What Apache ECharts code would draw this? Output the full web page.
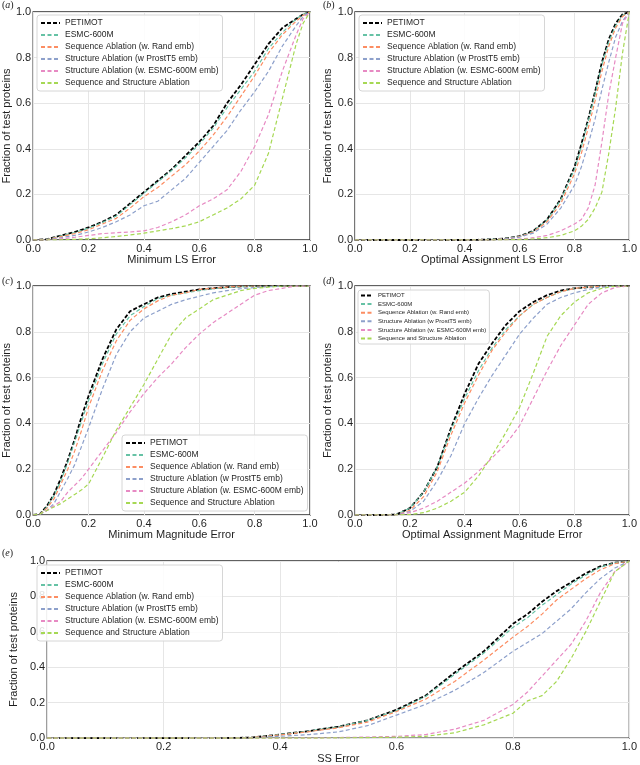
<!DOCTYPE html>
<html>
<head>
<meta charset="utf-8">
<script src="https://cdn.jsdelivr.net/npm/echarts@6/dist/echarts.min.js"></script>
<style>
  html, body { margin: 0; padding: 0; background: #fff; }
  #chart { width: 640px; height: 765px; }
</style>
</head>
<body>
<div id="chart"></div>
<script>
// series names / colours (seaborn Set2, PETIMOT in black)
const seriesNames = [
  'PETIMOT',
  'ESMC-600M',
  'Sequence Ablation (w. Rand emb)',
  'Structure Ablation (w ProstT5 emb)',
  'Structure Ablation (w. ESMC-600M emb)',
  'Sequence and Structure Ablation'
]
const seriesColors = ['#000000', '#66c2a5', '#fc8d62', '#8da0cb', '#e78ac3', '#a6d854']

// (a) Minimum LS Error
const xA = [0, 0.05, 0.1, 0.15, 0.2, 0.25, 0.3, 0.35, 0.4, 0.45, 0.5, 0.55, 0.6, 0.65, 0.7, 0.75, 0.8, 0.85, 0.9, 0.95, 0.975, 1.0]
const petimotA    = [0, 0.003, 0.02, 0.035, 0.055, 0.08, 0.11, 0.16, 0.21, 0.26, 0.31, 0.37, 0.43, 0.50, 0.60, 0.68, 0.77, 0.86, 0.93, 0.97, 0.99, 1.0]
const esmcA       = [0, 0.003, 0.018, 0.033, 0.052, 0.077, 0.105, 0.155, 0.205, 0.255, 0.305, 0.36, 0.42, 0.49, 0.58, 0.66, 0.74, 0.84, 0.91, 0.97, 0.99, 1.0]
const seqRandA    = [0, 0.002, 0.015, 0.028, 0.045, 0.07, 0.095, 0.14, 0.19, 0.23, 0.28, 0.33, 0.39, 0.46, 0.54, 0.63, 0.72, 0.82, 0.90, 0.96, 0.985, 1.0]
const structProA  = [0, 0.002, 0.01, 0.02, 0.035, 0.055, 0.08, 0.11, 0.15, 0.17, 0.22, 0.27, 0.34, 0.41, 0.48, 0.57, 0.65, 0.74, 0.85, 0.94, 0.98, 1.0]
const structEsmA  = [0, 0.001, 0.005, 0.012, 0.02, 0.028, 0.032, 0.035, 0.04, 0.055, 0.08, 0.11, 0.15, 0.18, 0.22, 0.30, 0.41, 0.55, 0.74, 0.90, 0.97, 1.0]
const seqStructA  = [0, 0, 0.001, 0.003, 0.005, 0.01, 0.015, 0.022, 0.03, 0.04, 0.05, 0.062, 0.08, 0.11, 0.14, 0.18, 0.24, 0.38, 0.62, 0.86, 0.95, 1.0]

// (b) Optimal Assignment LS Error
const xB = [0, 0.4, 0.45, 0.5, 0.55, 0.6, 0.65, 0.7, 0.75, 0.8, 0.825, 0.85, 0.875, 0.9, 0.925, 0.95, 0.975, 1.0]
const petimotB    = [0, 0, 0.001, 0.003, 0.007, 0.017, 0.04, 0.09, 0.18, 0.32, 0.42, 0.53, 0.65, 0.78, 0.88, 0.95, 0.99, 1.0]
const esmcB       = [0, 0, 0.001, 0.003, 0.007, 0.016, 0.038, 0.088, 0.175, 0.31, 0.41, 0.52, 0.64, 0.77, 0.87, 0.94, 0.985, 1.0]
const seqRandB    = [0, 0, 0.001, 0.002, 0.006, 0.015, 0.035, 0.08, 0.16, 0.29, 0.38, 0.49, 0.61, 0.74, 0.85, 0.93, 0.98, 1.0]
const structProB  = [0, 0, 0.001, 0.002, 0.005, 0.013, 0.03, 0.07, 0.14, 0.24, 0.32, 0.42, 0.53, 0.66, 0.78, 0.89, 0.96, 1.0]
const structEsmB  = [0, 0, 0, 0.001, 0.002, 0.004, 0.01, 0.02, 0.04, 0.07, 0.09, 0.14, 0.24, 0.43, 0.64, 0.80, 0.95, 1.0]
const seqStructB  = [0, 0, 0, 0, 0.001, 0.002, 0.005, 0.01, 0.02, 0.04, 0.06, 0.09, 0.14, 0.21, 0.38, 0.58, 0.82, 1.0]

// (c) Minimum Magnitude Error
const xC = [0, 0.025, 0.05, 0.075, 0.1, 0.125, 0.15, 0.175, 0.2, 0.25, 0.3, 0.35, 0.4, 0.45, 0.5, 0.55, 0.6, 0.65, 0.7, 0.75, 0.8, 0.85, 0.9, 0.95, 1.0]
const petimotC    = [0, 0.005, 0.04, 0.09, 0.16, 0.24, 0.33, 0.43, 0.52, 0.68, 0.81, 0.89, 0.92, 0.95, 0.965, 0.975, 0.985, 0.99, 0.995, 0.998, 1.0, 1.0, 1.0, 1.0, 1.0]
const esmcC       = [0, 0.005, 0.035, 0.085, 0.15, 0.23, 0.32, 0.41, 0.50, 0.66, 0.79, 0.87, 0.91, 0.945, 0.96, 0.97, 0.98, 0.988, 0.993, 0.997, 1.0, 1.0, 1.0, 1.0, 1.0]
const seqRandC    = [0, 0.004, 0.03, 0.07, 0.135, 0.20, 0.28, 0.37, 0.47, 0.63, 0.76, 0.85, 0.90, 0.935, 0.96, 0.97, 0.985, 0.99, 0.995, 1.0, 1.0, 1.0, 1.0, 1.0, 1.0]
const structProC  = [0, 0.003, 0.02, 0.05, 0.105, 0.16, 0.22, 0.30, 0.38, 0.55, 0.70, 0.80, 0.86, 0.89, 0.92, 0.94, 0.955, 0.97, 0.98, 0.988, 0.993, 0.997, 1.0, 1.0, 1.0]
const structEsmC  = [0, 0.005, 0.02, 0.04, 0.06, 0.10, 0.13, 0.16, 0.20, 0.28, 0.36, 0.45, 0.53, 0.60, 0.66, 0.73, 0.79, 0.84, 0.88, 0.92, 0.96, 0.98, 0.99, 1.0, 1.0]
const seqStructC  = [0, 0.005, 0.02, 0.035, 0.05, 0.07, 0.09, 0.11, 0.135, 0.25, 0.37, 0.47, 0.57, 0.68, 0.79, 0.86, 0.90, 0.94, 0.96, 0.98, 0.99, 0.995, 1.0, 1.0, 1.0]

// (d) Optimal Assignment Magnitude Error
const xD = [0, 0.1, 0.15, 0.2, 0.25, 0.3, 0.35, 0.4, 0.45, 0.5, 0.55, 0.6, 0.65, 0.7, 0.75, 0.8, 0.85, 0.9, 0.95, 1.0]
const petimotD    = [0, 0, 0.002, 0.03, 0.10, 0.21, 0.38, 0.53, 0.66, 0.75, 0.83, 0.89, 0.93, 0.96, 0.98, 0.99, 0.995, 1.0, 1.0, 1.0]
const esmcD       = [0, 0, 0.002, 0.03, 0.10, 0.21, 0.37, 0.51, 0.63, 0.73, 0.81, 0.87, 0.92, 0.95, 0.975, 0.99, 0.995, 1.0, 1.0, 1.0]
const seqRandD    = [0, 0, 0.001, 0.02, 0.08, 0.19, 0.35, 0.49, 0.61, 0.72, 0.80, 0.87, 0.92, 0.95, 0.975, 0.99, 0.995, 1.0, 1.0, 1.0]
const structProD  = [0, 0, 0.001, 0.015, 0.06, 0.15, 0.26, 0.40, 0.51, 0.61, 0.70, 0.79, 0.86, 0.92, 0.95, 0.97, 0.985, 0.995, 1.0, 1.0]
const structEsmD  = [0, 0, 0, 0.01, 0.03, 0.06, 0.10, 0.14, 0.19, 0.25, 0.31, 0.39, 0.51, 0.63, 0.74, 0.83, 0.92, 0.97, 0.995, 1.0]
const seqStructD  = [0, 0, 0, 0.002, 0.01, 0.03, 0.06, 0.10, 0.17, 0.26, 0.36, 0.47, 0.62, 0.78, 0.87, 0.93, 0.97, 0.99, 1.0, 1.0]

// (e) SS Error
const xE = [0, 0.3, 0.35, 0.4, 0.45, 0.5, 0.55, 0.6, 0.65, 0.7, 0.75, 0.8, 0.825, 0.85, 0.875, 0.9, 0.925, 0.95, 0.975, 1.0]
const petimotE    = [0, 0, 0.003, 0.02, 0.04, 0.065, 0.10, 0.16, 0.24, 0.37, 0.49, 0.645, 0.70, 0.77, 0.83, 0.88, 0.93, 0.97, 0.99, 1.0]
const esmcE       = [0, 0, 0.003, 0.02, 0.04, 0.064, 0.10, 0.155, 0.235, 0.36, 0.48, 0.625, 0.68, 0.75, 0.81, 0.87, 0.92, 0.965, 0.99, 1.0]
const seqRandE    = [0, 0, 0.003, 0.018, 0.037, 0.058, 0.09, 0.15, 0.22, 0.32, 0.44, 0.57, 0.63, 0.70, 0.78, 0.84, 0.90, 0.95, 0.985, 1.0]
const structProE  = [0, 0, 0.002, 0.01, 0.02, 0.035, 0.07, 0.13, 0.19, 0.27, 0.37, 0.49, 0.54, 0.59, 0.66, 0.73, 0.82, 0.90, 0.96, 1.0]
const structEsmE  = [0, 0, 0, 0, 0.001, 0.003, 0.006, 0.01, 0.02, 0.05, 0.10, 0.19, 0.26, 0.35, 0.44, 0.53, 0.66, 0.82, 0.94, 1.0]
const seqStructE  = [0, 0, 0, 0, 0, 0.001, 0.003, 0.005, 0.01, 0.03, 0.075, 0.14, 0.21, 0.24, 0.32, 0.45, 0.60, 0.77, 0.94, 1.0]

const FONT = 'Liberation Sans, Arial, sans-serif'
const TXT = '#1f1f1f'

const panels = [
  { tag: 'a', xs: xA, ys: [petimotA, esmcA, seqRandA, structProA, structEsmA, seqStructA], xName: 'Minimum LS Error',
    grid: { left: 32, top: 12, width: 278, height: 228 }, labelPos: [2, 0],
    legend: { left: 37, top: 15, small: false } },
  { tag: 'b', xs: xB, ys: [petimotB, esmcB, seqRandB, structProB, structEsmB, seqStructB], xName: 'Optimal Assignment LS Error',
    grid: { left: 355, top: 12, width: 278, height: 228 }, labelPos: [323, 0],
    legend: { left: 359, top: 15, small: false } },
  { tag: 'c', xs: xC, ys: [petimotC, esmcC, seqRandC, structProC, structEsmC, seqStructC], xName: 'Minimum Magnitude Error',
    grid: { left: 32, top: 286, width: 278, height: 229 }, labelPos: [2, 276],
    legend: { left: 122, top: 435, small: false } },
  { tag: 'd', xs: xD, ys: [petimotD, esmcD, seqRandD, structProD, structEsmD, seqStructD], xName: 'Optimal Assignment Magnitude Error',
    grid: { left: 355, top: 286, width: 278, height: 229 }, labelPos: [323, 276],
    legend: { left: 358, top: 290, small: true } },
  { tag: 'e', xs: xE, ys: [petimotE, esmcE, seqRandE, structProE, structEsmE, seqStructE], xName: 'SS Error',
    grid: { left: 32, top: 561, width: 601, height: 182 }, labelPos: [2, 548],
    legend: { left: 37, top: 565, small: false } }
]

const chart = echarts.init(document.getElementById('chart'), null, { renderer: 'canvas' })

const grids = [], xAxes = [], yAxes = [], series = [], legends = [], texts = []

panels.forEach((p, i) => {
  grids.push(Object.assign({
    show: true, borderColor: '#2e2e2e', borderWidth: 1.3, backgroundColor: '#ffffff', containLabel: false
  }, p.grid))

  const axisCommon = {
    gridIndex: i, type: 'value', min: 0, max: 1, interval: 0.2,
    axisLine: { show: false }, axisTick: { show: false },
    splitLine: { show: true, lineStyle: { color: '#e6e6e6', width: 1 } },
    nameLocation: 'middle',
    nameTextStyle: { fontFamily: FONT, fontSize: 11, color: TXT }
  }
  xAxes.push(Object.assign({}, axisCommon, {
    name: p.xName, nameGap: 13,
    axisLabel: { margin: 3, fontFamily: FONT, fontSize: 11, color: TXT, formatter: v => v.toFixed(1) }
  }))
  yAxes.push(Object.assign({}, axisCommon, {
    name: 'Fraction of test proteins', nameGap: 20,
    axisLabel: { margin: 2, fontFamily: FONT, fontSize: 11, color: TXT, formatter: v => v.toFixed(1) }
  }))

  seriesNames.forEach((name, j) => {
    series.push({
      type: 'line', name: name, xAxisIndex: i, yAxisIndex: i,
      data: p.xs.map((x, k) => [x, p.ys[j][k]]),
      symbol: 'none', showSymbol: false, silent: true, animation: false,
      z: 2 + j,
      itemStyle: { color: seriesColors[j] },
      lineStyle: { color: seriesColors[j], width: j === 0 ? 1.8 : 1.2, type: j === 0 ? [4, 2] : [4, 2.5] }
    })
  })

  // legend: dashed line only, the symbol is hidden
  const small = p.legend.small
  legends.push({
    data: seriesNames, orient: 'vertical', left: p.legend.left, top: p.legend.top,
    selectedMode: false,
    backgroundColor: 'rgba(255,255,255,0.85)', borderColor: '#d6d6d6', borderWidth: 1, borderRadius: 3,
    padding: small ? [2, 3, 2, 2] : [3, 4, 3, 3],
    itemWidth: small ? 12 : 19, itemHeight: small ? 7 : 10, itemGap: small ? 1.6 : 2,
    itemStyle: { opacity: 0, borderWidth: 0 },
    textStyle: { fontFamily: FONT, fontSize: small ? 6 : 8.5, color: TXT, lineHeight: small ? 7 : 10 }
  })

  texts.push({
    type: 'text', left: p.labelPos[0], top: p.labelPos[1],
    style: {
      text: '{p|(}{i|' + p.tag + '}{p|)}',
      rich: {
        p: { fontFamily: 'Liberation Serif, serif', fontSize: 10, fill: '#222' },
        i: { fontFamily: 'Liberation Serif, serif', fontSize: 10, fontStyle: 'italic', fill: '#222' }
      }
    }
  })
})

chart.setOption({
  animation: false,
  backgroundColor: '#ffffff',
  grid: grids,
  xAxis: xAxes,
  yAxis: yAxes,
  legend: legends,
  series: series,
  graphic: texts
})
</script>
</body>
</html>
